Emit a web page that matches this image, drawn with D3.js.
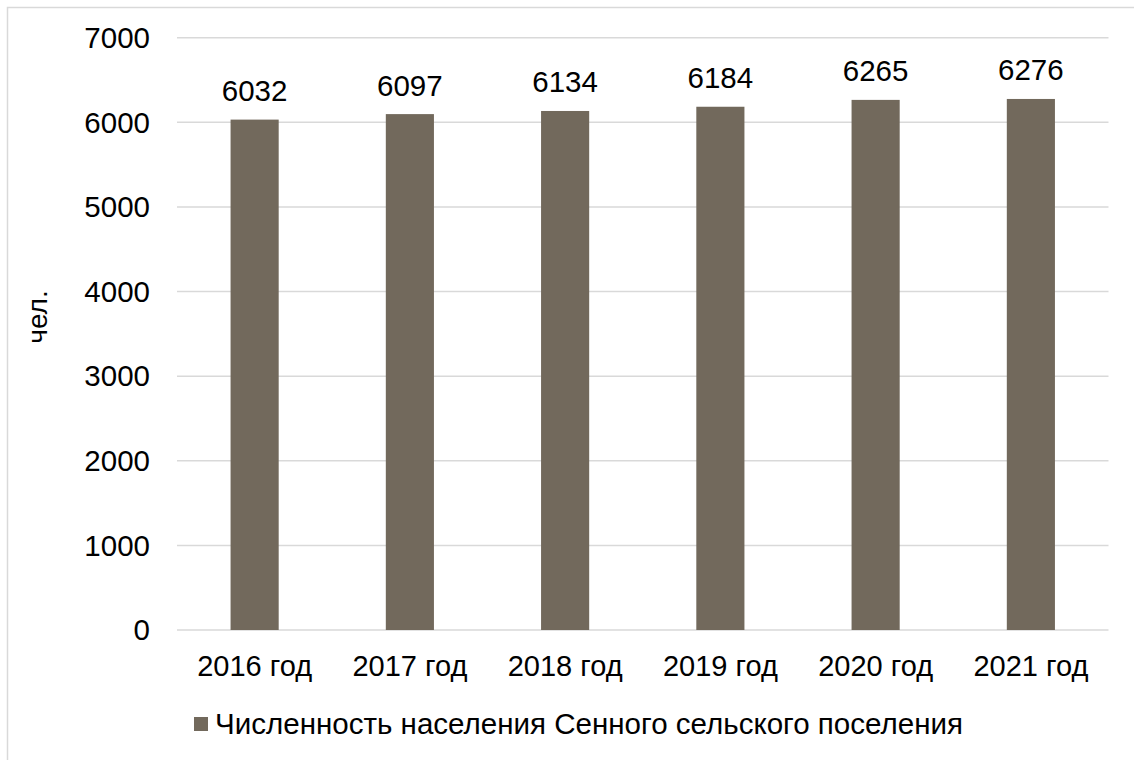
<!DOCTYPE html>
<html><head><meta charset="utf-8">
<script src="https://cdn.jsdelivr.net/npm/d3@7"></script>
<style>body{margin:0;background:#fff}svg{display:block}text{font-family:Arial,"Liberation Sans",sans-serif;fill:#000}</style>
</head><body>
<svg id="c" width="1134" height="760"></svg>
<script>
const categories = ["2016 год","2017 год","2018 год","2019 год","2020 год","2021 год"];
const values = [6032,6097,6134,6184,6265,6276];
const yTicks = [0,1000,2000,3000,4000,5000,6000,7000];
const seriesName = "Численность населения Сенного сельского поселения";
const yTitle = "чел.";

const svg = d3.select("#c");
svg.append("rect").attr("x",7.5).attr("y",7.5).attr("width",1140).attr("height",770)
  .attr("fill","#fff").attr("stroke","#d9d9d9").attr("stroke-width",1.5);

const L=177, R=1108.5, T=37.7, B=630;
const x = d3.scaleBand().domain(categories).range([L,R]).paddingInner(0.69).paddingOuter(0.345);
const y = d3.scaleLinear().domain([0,7000]).range([B,T]);

const g = svg.append("g");
g.selectAll("line.grid").data(yTicks).join("line")
  .attr("x1",L).attr("x2",R).attr("y1",d=>y(d)).attr("y2",d=>y(d))
  .attr("stroke","#d9d9d9").attr("stroke-width",1.5);

const yAxis = d3.axisLeft(y).tickValues(yTicks).tickSize(0).tickPadding(0).tickFormat(d3.format("d"));
const ya = svg.append("g").attr("transform",`translate(150,0)`).call(yAxis);
ya.select(".domain").remove();
ya.selectAll("text").attr("font-size",29.5).attr("dy","0.33em").style("font-family","Arial, 'Liberation Sans', sans-serif");

g.selectAll("rect.bar").data(values).join("rect")
  .attr("x",(d,i)=>x(categories[i])).attr("width",x.bandwidth())
  .attr("y",d=>y(d)).attr("height",d=>B-y(d)).attr("fill","#72695c");

g.selectAll("text.lbl").data(values).join("text")
  .attr("x",(d,i)=>x(categories[i])+x.bandwidth()/2).attr("y",d=>y(d)-18.5)
  .attr("text-anchor","middle").attr("font-size",29.5).text(d=>d);

const xAxis = d3.axisBottom(x).tickSize(0).tickPadding(0);
const xa = svg.append("g").attr("transform",`translate(0,${B})`).call(xAxis);
xa.select(".domain").remove();
xa.selectAll("text").attr("font-size",29).attr("dy",0).attr("y",45.5).style("font-family","Arial, 'Liberation Sans', sans-serif");

svg.append("text").attr("transform","translate(47,317) rotate(-90)")
  .attr("text-anchor","middle").attr("font-size",28).text(yTitle);

svg.append("rect").attr("x",194).attr("y",717).attr("width",14).attr("height",14).attr("fill","#72695c");
svg.append("text").attr("x",215).attr("y",734).attr("font-size",29).attr("textLength",748).attr("lengthAdjust","spacingAndGlyphs").text(seriesName);
</script>
</body></html>
